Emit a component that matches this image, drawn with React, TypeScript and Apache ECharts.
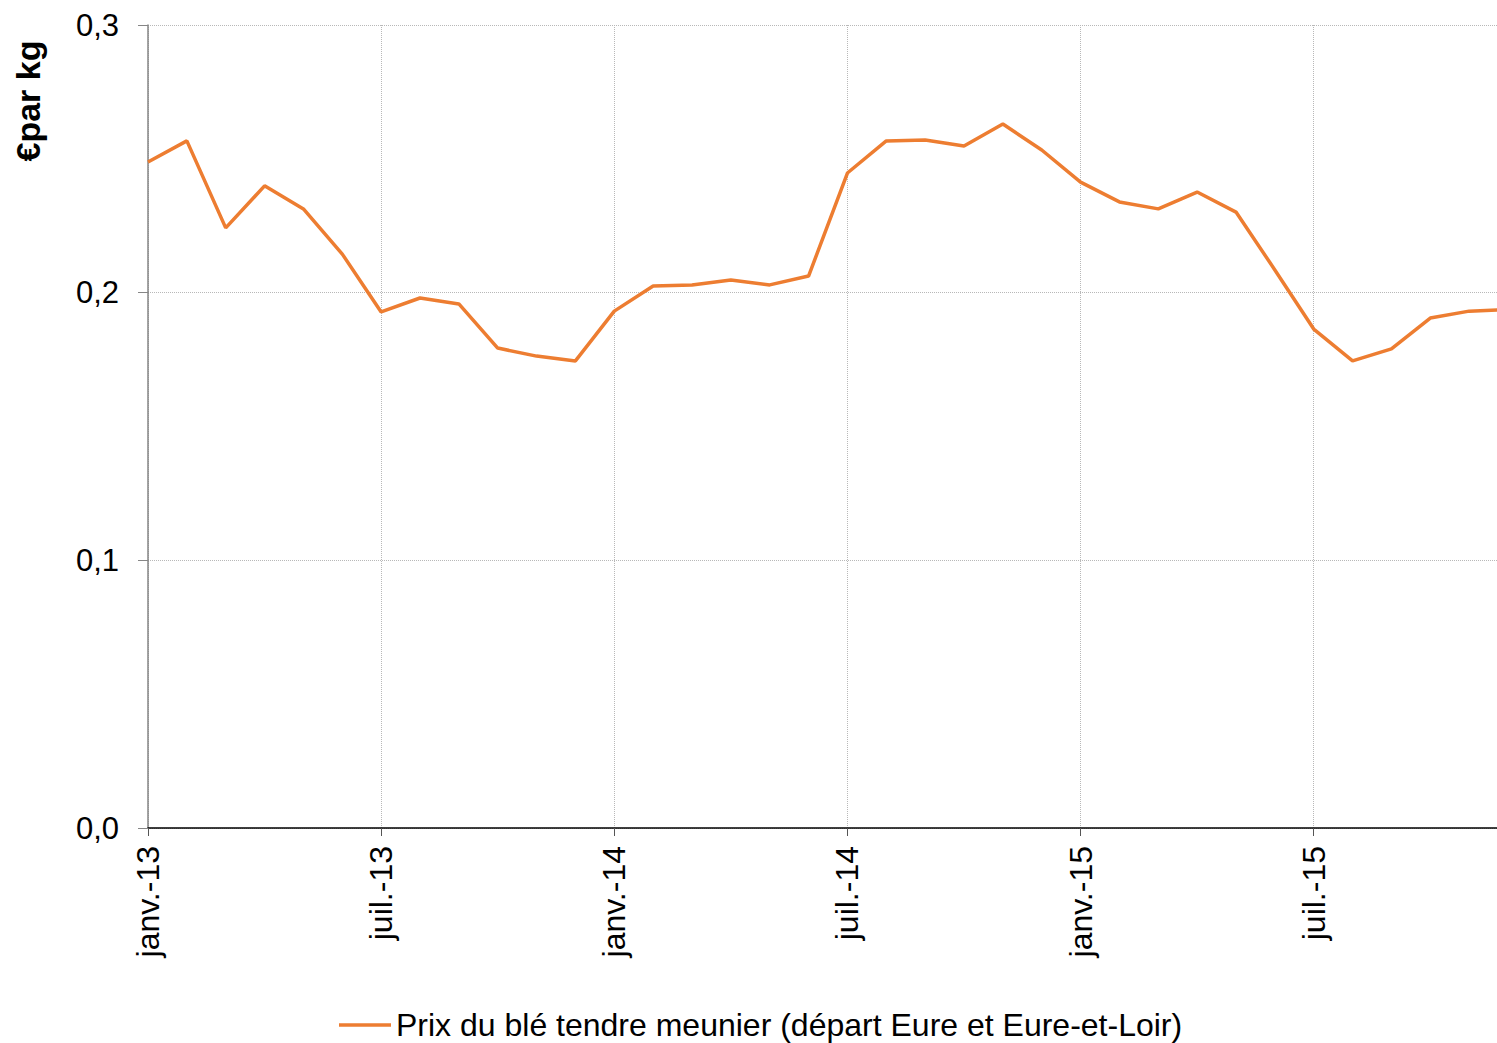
import React, { useEffect, useRef } from "react";
import * as echarts from "echarts";

const months: string[] = [
  "janv.-13", "févr.-13", "mars-13", "avr.-13", "mai-13", "juin-13",
  "juil.-13", "août-13", "sept.-13", "oct.-13", "nov.-13", "déc.-13",
  "janv.-14", "févr.-14", "mars-14", "avr.-14", "mai-14", "juin-14",
  "juil.-14", "août-14", "sept.-14", "oct.-14", "nov.-14", "déc.-14",
  "janv.-15", "févr.-15", "mars-15", "avr.-15", "mai-15", "juin-15",
  "juil.-15", "août-15", "sept.-15", "oct.-15", "nov.-15", "déc.-15",
];

const prixBle: number[] = [
  0.2488, 0.2567, 0.2242, 0.2399, 0.2313, 0.2144,
  0.1928, 0.1980, 0.1958, 0.1793, 0.1763, 0.1745,
  0.1931, 0.2025, 0.2029, 0.2047, 0.2029, 0.2062,
  0.2447, 0.2567, 0.2570, 0.2548, 0.2630, 0.2533,
  0.2413, 0.2339, 0.2313, 0.2376, 0.2301, 0.2085,
  0.1864, 0.1745, 0.1790, 0.1905, 0.1931, 0.1937,
];

const seriesName = "Prix du blé tendre meunier (départ Eure et Eure-et-Loir)";
const yTitle = "€par kg";

const FONT = "'Liberation Sans', Arial, sans-serif";

export default function App() {
  const ref = useRef<HTMLDivElement>(null);
  useEffect(() => {
    if (!ref.current) return;
    const chart = echarts.init(ref.current, undefined, { renderer: "svg" });
    chart.setOption({
      animation: false,
      backgroundColor: "#ffffff",
      grid: { left: 148, top: 25, bottom: 215, right: 12, containLabel: false },
      xAxis: {
        type: "category",
        data: months,
        boundaryGap: false,
        axisLine: { lineStyle: { color: "#000000", width: 1.5 } },
        axisTick: { show: true, interval: 5, length: 8, lineStyle: { color: "#555555" } },
        axisLabel: {
          interval: 5,
          rotate: 90,
          margin: 18,
          fontFamily: FONT,
          fontSize: 32,
          color: "#000000",
        },
        splitLine: {
          show: true,
          interval: 5,
          lineStyle: { color: "#b8b8b8", type: "dotted", width: 1 },
        },
      },
      yAxis: {
        type: "value",
        min: 0,
        max: 0.3,
        interval: 0.1,
        axisLine: { show: true, lineStyle: { color: "#868686", width: 1.5 } },
        axisTick: { show: true, length: 10, lineStyle: { color: "#868686" } },
        axisLabel: {
          margin: 29,
          fontFamily: FONT,
          fontSize: 31,
          color: "#000000",
          formatter: (v: number) => v.toFixed(1).replace(".", ","),
        },
        splitLine: { lineStyle: { color: "#b8b8b8", type: "dotted", width: 1 } },
      },
      legend: {
        data: [{ name: seriesName, icon: "rect" }],
        left: 334,
        top: 1004,
        itemWidth: 52,
        itemHeight: 3.5,
        itemGap: 10,
        textStyle: { fontFamily: FONT, fontSize: 32, lineHeight: 32, color: "#000000" },
      },
      graphic: [
        {
          type: "text",
          x: 28,
          y: 101,
          rotation: Math.PI / 2,
          style: {
            text: yTitle,
            fontFamily: FONT,
            fontSize: 34,
            fontWeight: "bold",
            fill: "#000000",
            align: "center",
            verticalAlign: "middle",
          },
        },
      ],
      series: [
        {
          name: seriesName,
          type: "line",
          data: prixBle,
          symbol: "none",
          showSymbol: false,
          lineStyle: { color: "#ED7D31", width: 3.5 },
          itemStyle: { color: "#ED7D31" },
        },
      ],
    });
    return () => chart.dispose();
  }, []);

  return (
    <div
      style={{
        position: "fixed",
        left: 0,
        top: 0,
        width: 1497,
        height: 1043,
        overflow: "hidden",
        background: "#ffffff",
      }}
    >
      <div ref={ref} style={{ width: 1520, height: 1043 }} />
    </div>
  );
}
